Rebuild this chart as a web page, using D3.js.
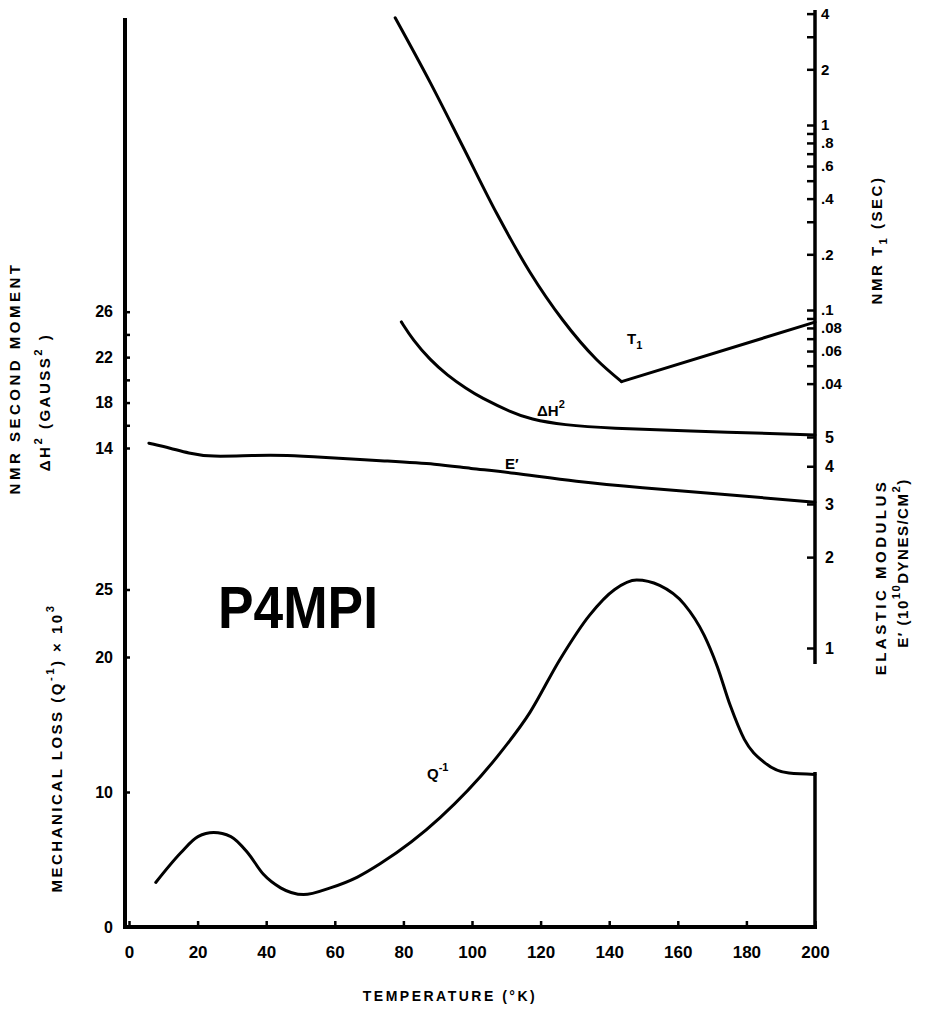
<!DOCTYPE html>
<html>
<head>
<meta charset="utf-8">
<script src="https://cdn.jsdelivr.net/npm/d3@7"></script>
<style>
  body { margin: 0; background: #fff; }
  text { font-family: "Liberation Sans", Arial, sans-serif; font-weight: bold; fill: #000; }
</style>
</head>
<body>
<svg id="chart" width="925" height="1017"></svg>
<script>
// temperature (K) vs mechanical loss Q^-1 x 10^3
const tempQ = [7.8, 15.1, 20.1, 24.7, 29.7, 34.6, 39.2, 44.2, 50.9, 58.7, 66.6, 73.3, 90.7, 107.3, 116.9, 125.6, 134.3, 141.6, 148, 154.7, 161.9, 167.7, 171.5, 175.3, 179.4, 185.2, 192.4, 200];
const lossQ = [3.3, 5.5, 6.7, 7.0, 6.7, 5.5, 3.9, 2.9, 2.4, 2.9, 3.7, 4.7, 8.1, 12.6, 15.9, 19.8, 23.1, 25.0, 25.7, 25.3, 23.9, 21.6, 19.3, 16.4, 13.9, 12.2, 11.4, 11.3];

// NMR T1 (sec), descending branch then straight branch after the minimum
const tempT1 = [77.6, 87.8, 97.4, 107.3, 116.9, 126.5, 136.3, 143.6];
const t1Sec = [3.8, 1.7, 0.76, 0.33, 0.16, 0.088, 0.054, 0.041];
const tempT1b = [143.6, 200];
const t1SecB = [0.041, 0.086];

// NMR second moment (gauss^2)
const tempDH = [79.4, 82.8, 87.8, 92.7, 98.5, 102.3, 111.9, 116.9, 126.5, 141, 160.5, 200];
const dh2 = [25.1, 23.5, 21.75, 20.43, 19.19, 18.49, 17.08, 16.55, 16.02, 15.72, 15.54, 15.14];

// elastic modulus E' (10^10 dynes/cm^2)
const tempE = [5.8, 12.2, 17.2, 23.8, 36.3, 46.2, 55.8, 75.3, 89.8, 99.4, 111, 130.5, 149.7, 169.2, 200];
const eMod = [4.77, 4.59, 4.42, 4.29, 4.35, 4.35, 4.29, 4.16, 4.07, 3.93, 3.82, 3.55, 3.39, 3.26, 3.04];

const tempTicks = [0, 20, 40, 60, 80, 100, 120, 140, 160, 180, 200];
const lossTicks = [0, 10, 20, 25];
const dhTicks = [14, 16, 18, 20, 22, 24, 26];
const dhLabels = [14, 18, 22, 26];
const t1Ticks = [0.04, 0.05, 0.06, 0.07, 0.08, 0.09, 0.1, 0.2, 0.3, 0.4, 0.5, 0.6, 0.7, 0.8, 0.9, 1, 2, 3, 4];
const t1Labels = [0.04, 0.06, 0.08, 0.1, 0.2, 0.4, 0.6, 0.8, 1, 2, 4];
const eTicks = [1, 2, 3, 4, 5];

const svg = d3.select("#chart");

const x = d3.scaleLinear().domain([0, 200]).range([129, 815]);
const yLoss = d3.scaleLinear().domain([0, 25]).range([927, 589.5]);
const yDH = d3.scaleLinear().domain([14, 26]).range([448, 311.7]);
const yT1 = d3.scaleLog().domain([0.1, 1]).range([310, 125]);
const yE = d3.scaleLog().domain([1, 5]).range([648, 437]);

const leftX = 125;
const rightX = 815;

// axis lines
svg.append("line").attr("x1", leftX).attr("x2", leftX).attr("y1", 18).attr("y2", 929)
  .attr("stroke", "#000").attr("stroke-width", 4);
svg.append("line").attr("x1", leftX).attr("x2", rightX + 2).attr("y1", 927).attr("y2", 927)
  .attr("stroke", "#000").attr("stroke-width", 4);
svg.append("line").attr("x1", rightX).attr("x2", rightX).attr("y1", 10).attr("y2", 664)
  .attr("stroke", "#000").attr("stroke-width", 3.5);
svg.append("line").attr("x1", rightX).attr("x2", rightX).attr("y1", 772).attr("y2", 929)
  .attr("stroke", "#000").attr("stroke-width", 3.5);

function styleAxis(g, size) {
  g.select(".domain").remove();
  g.selectAll(".tick line").attr("stroke", "#000").attr("stroke-width", 2.5);
  g.selectAll(".tick text").style("font-size", size + "px").style("font-family", "Liberation Sans, Arial, sans-serif").style("font-weight", "bold");
}

// bottom temperature axis
svg.append("g")
  .attr("transform", `translate(0,927)`)
  .call(d3.axisBottom(x).tickValues(tempTicks).tickSize(-6).tickPadding(19))
  .call(g => styleAxis(g, 17));

// left lower: mechanical loss
svg.append("g")
  .attr("transform", `translate(${leftX},0)`)
  .call(d3.axisLeft(yLoss).tickValues(lossTicks).tickSize(-5).tickPadding(12))
  .call(g => styleAxis(g, 16));

// left upper: second moment
svg.append("g")
  .attr("transform", `translate(${leftX},0)`)
  .call(d3.axisLeft(yDH).tickValues(dhTicks).tickSize(-5).tickPadding(12)
    .tickFormat(d => dhLabels.includes(d) ? d : ""))
  .call(g => styleAxis(g, 16));

// right upper: T1 log axis
svg.append("g")
  .attr("transform", `translate(${rightX},0)`)
  .call(d3.axisRight(yT1).tickValues(t1Ticks).tickSize(-8).tickPadding(6)
    .tickFormat(d => t1Labels.includes(d) ? (d >= 1 ? String(d) : String(d).replace("0.", ".")) : ""))
  .call(g => styleAxis(g, 15));

// right lower: E' log axis
svg.append("g")
  .attr("transform", `translate(${rightX},0)`)
  .call(d3.axisRight(yE).tickValues(eTicks).tickSize(-8).tickPadding(10).tickFormat(d3.format("d")))
  .call(g => styleAxis(g, 16));

// curves
function drawCurve(xs, ys, yScale, curve) {
  const pts = xs.map((t, i) => [t, ys[i]]);
  svg.append("path")
    .datum(pts)
    .attr("fill", "none")
    .attr("stroke", "#000")
    .attr("stroke-width", 3)
    .attr("stroke-linejoin", "round")
    .attr("stroke-linecap", "round")
    .attr("d", d3.line().x(d => x(d[0])).y(d => yScale(d[1])).curve(curve));
}

drawCurve(tempQ, lossQ, yLoss, d3.curveMonotoneX);
drawCurve(tempT1, t1Sec, yT1, d3.curveMonotoneX);
drawCurve(tempT1b, t1SecB, yT1, d3.curveLinear);
drawCurve(tempDH, dh2, yDH, d3.curveBasis);
drawCurve(tempE, eMod, yE, d3.curveBasis);

// curve labels
function label(tx, ty, main, sup, sub) {
  const t = svg.append("text").attr("x", tx).attr("y", ty).style("font-size", "15px").text(main);
  if (sup) t.append("tspan").attr("dy", -8).style("font-size", "11px").text(sup);
  if (sub) t.append("tspan").attr("dy", 5).style("font-size", "11px").text(sub);
}
label(627, 344, "T", null, "1");
label(537, 416, "ΔH", "2");
label(505, 469, "E′");
label(427, 779, "Q", "-1");

// big sample name
svg.append("text")
  .attr("x", 218).attr("y", 628)
  .attr("textLength", 160).attr("lengthAdjust", "spacingAndGlyphs")
  .style("font-size", "60px")
  .text("P4MPI");

// axis titles
function vTitle(cx, cy, parts, size, spacing) {
  const t = svg.append("text")
    .attr("transform", `translate(${cx},${cy}) rotate(-90)`)
    .attr("text-anchor", "middle")
    .style("font-size", size + "px")
    .style("letter-spacing", spacing + "px");
  parts.forEach(p => {
    const s = t.append("tspan").text(p.t);
    if (p.sup) s.attr("dy", p.dy).style("font-size", (size * 0.75) + "px");
    else if (p.dy) s.attr("dy", p.dy);
  });
  return t;
}

vTitle(20, 378, [{ t: "NMR SECOND MOMENT" }], 15, 3.5);
vTitle(50, 402, [
  { t: "ΔH" }, { t: "2", sup: true, dy: -8 }, { t: "  (GAUSS", dy: 8 }, { t: "2", sup: true, dy: -8 }, { t: " )", dy: 8 }
], 15, 2.5);
vTitle(62, 748, [
  { t: "MECHANICAL LOSS (Q" }, { t: "-1", sup: true, dy: -8 }, { t: ") × 10", dy: 8 }, { t: "3", sup: true, dy: -8 }
], 15, 2.5);
vTitle(882, 240, [
  { t: "NMR   T" }, { t: "1", sup: true, dy: 5 }, { t: " (SEC)", dy: -5 }
], 15, 2.5);
vTitle(886, 577, [{ t: "ELASTIC MODULUS" }], 15, 3.5);
vTitle(908, 563, [
  { t: "E′ (10" }, { t: "10", sup: true, dy: -8 }, { t: "DYNES/CM", dy: 8 }, { t: "2", sup: true, dy: -8 }, { t: ")", dy: 8 }
], 15, 1.5);

svg.append("text")
  .attr("x", 450).attr("y", 1001)
  .attr("text-anchor", "middle")
  .style("font-size", "14px")
  .style("letter-spacing", "2.5px")
  .text("TEMPERATURE  (°K)");
</script>
</body>
</html>
